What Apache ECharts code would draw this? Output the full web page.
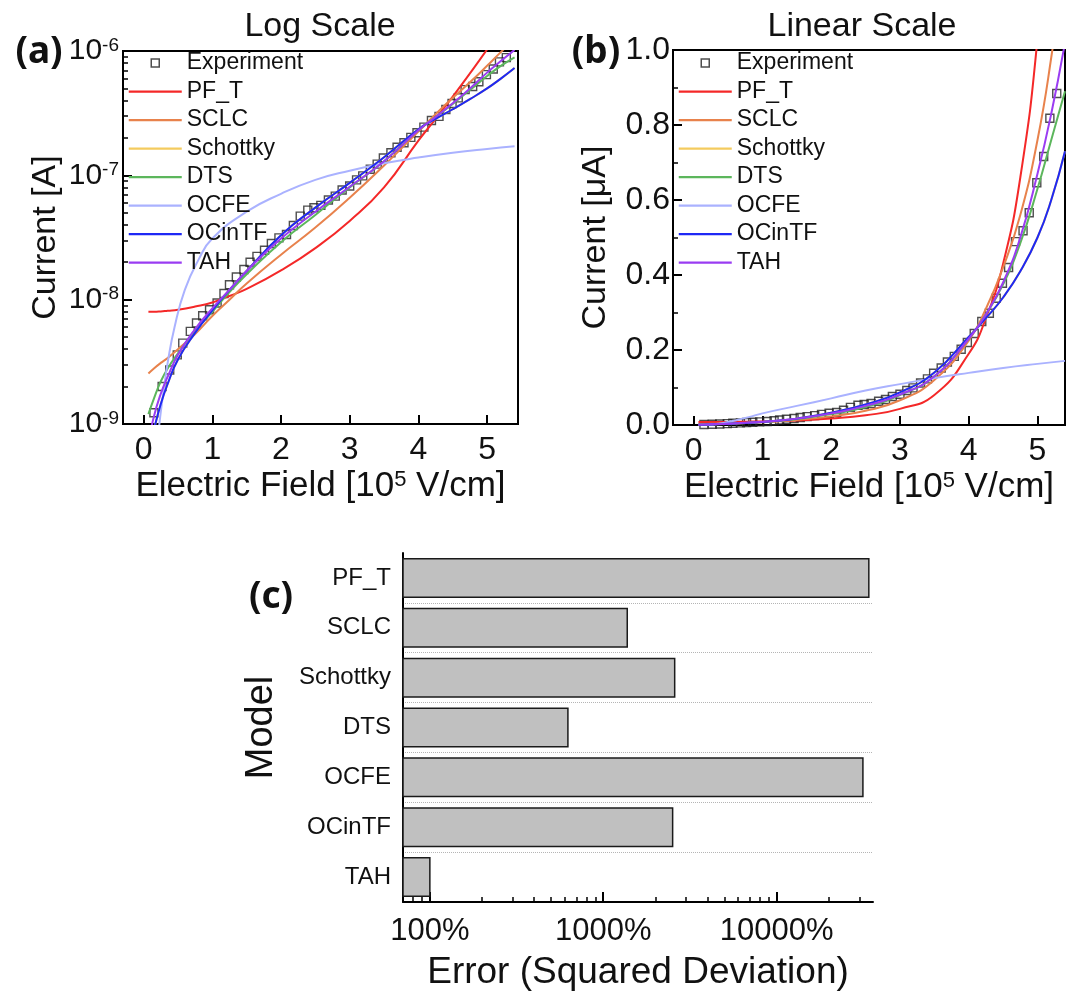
<!DOCTYPE html>
<html>
<head>
<meta charset="utf-8">
<title>I-V fits</title>
<script src="https://cdn.jsdelivr.net/npm/echarts@6/dist/echarts.min.js"></script>
<style>
    html, body { margin: 0; padding: 0; background: #fff; }
    #chart { width: 1073px; height: 997px; }
</style>
</head>
<body>
<div id="chart"></div>
<script>
// measured points, field in 1e5 V/cm, current in A
var fieldExp = [0.15, 0.27, 0.38, 0.49, 0.57, 0.68, 0.77, 0.86, 0.96, 1.07, 1.17, 1.25, 1.35, 1.46, 1.55,
    1.65, 1.76, 1.86, 1.97, 2.08, 2.18, 2.28, 2.39, 2.48, 2.58, 2.69, 2.79, 2.89, 3.00, 3.10, 3.19, 3.30,
    3.40, 3.49, 3.60, 3.69, 3.79, 3.89, 3.98, 4.08, 4.19, 4.30, 4.40, 4.49, 4.58, 4.68, 4.79, 4.88, 4.99,
    5.09, 5.18, 5.28];
var currentExp = [1.23e-9, 2.0e-9, 2.72e-9, 3.6e-9, 4.47e-9, 5.56e-9, 6.49e-9, 7.43e-9, 8.3e-9, 9.4e-9,
    1.12e-8, 1.32e-8, 1.52e-8, 1.75e-8, 2.0e-8, 2.23e-8, 2.5e-8, 2.83e-8, 3.14e-8, 3.34e-8, 3.95e-8,
    4.7e-8, 5.25e-8, 5.48e-8, 5.73e-8, 6.33e-8, 6.81e-8, 7.62e-8, 8.2e-8, 9.2e-8, 9.9e-8, 1.12e-7,
    1.23e-7, 1.38e-7, 1.52e-7, 1.68e-7, 1.83e-7, 2.02e-7, 2.2e-7, 2.44e-7, 2.76e-7, 2.98e-7, 3.38e-7,
    3.78e-7, 4.2e-7, 4.89e-7, 5.18e-7, 5.66e-7, 6.46e-7, 7.16e-7, 8.18e-7, 8.84e-7];

// fitted models
var fieldModel = [0.07, 0.15, 0.25, 0.35, 0.5, 0.75, 1.0, 1.25, 1.5, 2.0, 2.5, 3.0, 3.5, 4.0, 4.25, 4.5, 4.75, 5.0, 5.2, 5.4];
var currentPFT = [8.0e-9, 8.0e-9, 8.05e-9, 8.15e-9, 8.3e-9, 8.8e-9, 9.5e-9, 1.07e-8, 1.22e-8, 1.72e-8,
    2.6e-8, 4.3e-8, 8.0e-8, 1.9e-7, 2.85e-7, 4.3e-7, 6.6e-7, 1.03e-6, 1.5e-6, 2.2e-6];
var currentSCLC = [2.55e-9, 2.8e-9, 3.1e-9, 3.4e-9, 4.0e-9, 5.3e-9, 7.4e-9, 1.0e-8, 1.35e-8, 2.3e-8,
    3.8e-8, 6.6e-8, 1.2e-7, 2.25e-7, 3.1e-7, 4.2e-7, 5.6e-7, 7.6e-7, 9.8e-7, 1.25e-6];
var currentSchottky = [6.0e-10, 9.0e-10, 1.45e-9, 2.1e-9, 3.3e-9, 5.4e-9, 8.2e-9, 1.2e-8, 1.7e-8, 3.3e-8,
    5.5e-8, 8.7e-8, 1.4e-7, 2.35e-7, 2.85e-7, 3.4e-7, 4.1e-7, 5.0e-7, 6.0e-7, 7.3e-7];
var currentDTS = [1.2e-9, 1.6e-9, 2.2e-9, 2.8e-9, 3.7e-9, 5.6e-9, 8.0e-9, 1.15e-8, 1.6e-8, 2.9e-8,
    4.8e-8, 8.0e-8, 1.3e-7, 2.3e-7, 2.95e-7, 3.75e-7, 4.85e-7, 6.3e-7, 7.6e-7, 8.9e-7];
var currentOCinTF = [6.0e-10, 9.0e-10, 1.45e-9, 2.1e-9, 3.3e-9, 5.4e-9, 8.2e-9, 1.2e-8, 1.7e-8, 3.3e-8,
    5.5e-8, 8.7e-8, 1.4e-7, 2.35e-7, 2.85e-7, 3.4e-7, 4.1e-7, 5.0e-7, 6.0e-7, 7.3e-7];
var currentTAH = [7.0e-10, 1.15e-9, 1.75e-9, 2.4e-9, 3.6e-9, 5.8e-9, 8.5e-9, 1.2e-8, 1.7e-8, 3.1e-8,
    5.1e-8, 8.1e-8, 1.3e-7, 2.3e-7, 2.95e-7, 3.8e-7, 5.0e-7, 6.7e-7, 8.3e-7, 1.02e-6];
var fieldOCFE = [0.2, 0.25, 0.3, 0.35, 0.45, 0.6, 0.8, 1.0, 1.5, 2.0, 2.5, 3.0, 3.5, 4.0, 4.5, 5.0, 5.4];
var currentOCFE = [7.0e-10, 1.25e-9, 2.0e-9, 3.1e-9, 6.0e-9, 1.2e-8, 2.1e-8, 3.1e-8, 5.1e-8, 7.1e-8,
    9.2e-8, 1.09e-7, 1.25e-7, 1.39e-7, 1.52e-7, 1.63e-7, 1.71e-7];

// error of each model, percent
var models = ['PF_T', 'SCLC', 'Schottky', 'DTS', 'OCFE', 'OCinTF', 'TAH'];
var errors = [34400, 1390, 2610, 632, 31800, 2540, 101];

// ticks
var fieldTicks = [0, 1, 2, 3, 4, 5];
var logCurrentTicks = [1e-9, 1e-8, 1e-7, 1e-6];
var errorTicks = [100, 1000, 10000];

var FONT = "'Liberation Sans', Arial, sans-serif";
var modelColors = {
    'PF_T': '#f42828',
    'SCLC': '#e8824c',
    'Schottky': '#f4cb5e',
    'DTS': '#5cb65c',
    'OCFE': '#aab2ff',
    'OCinTF': '#1e28f5',
    'TAH': '#9a3cf2'
};

var modelCurves = [
    {name: 'PF_T', x: fieldModel, y: currentPFT},
    {name: 'SCLC', x: fieldModel, y: currentSCLC},
    {name: 'Schottky', x: fieldModel, y: currentSchottky},
    {name: 'DTS', x: fieldModel, y: currentDTS},
    {name: 'OCFE', x: fieldOCFE, y: currentOCFE},
    {name: 'OCinTF', x: fieldModel, y: currentOCinTF},
    {name: 'TAH', x: fieldModel, y: currentTAH}
];

function curve(xs, ys, scale) {
    return xs.map(function (x, i) {
        return [x, ys[i] * scale];
    });
}

function log10List(list) {
    return list.map(function (v) {
        return Math.log10(v);
    });
}

// tick positions 2..9 of every decade inside [lo, hi], in log10 units
function logMinor(lo, hi) {
    var out = [];
    for (var d = Math.floor(Math.log10(lo)); d <= Math.ceil(Math.log10(hi)); d++) {
        for (var k = 2; k <= 9; k++) {
            var v = k * Math.pow(10, d);
            if (v > lo && v < hi) out.push(Math.log10(v));
        }
    }
    return out;
}

function panelSeries(xIdx, yIdx, scale) {
    var list = [{
        name: 'Experiment',
        type: 'scatter',
        xAxisIndex: xIdx,
        yAxisIndex: yIdx,
        symbol: 'rect',
        symbolSize: 8,
        itemStyle: {color: 'rgba(0,0,0,0)', borderColor: '#222', borderWidth: 1.4},
        data: curve(fieldExp, currentExp, scale),
        z: 2
    }];
    modelCurves.forEach(function (m) {
        list.push({
            name: m.name,
            type: 'line',
            xAxisIndex: xIdx,
            yAxisIndex: yIdx,
            smooth: 0.5,
            symbol: 'none',
            lineStyle: {color: modelColors[m.name], width: 2},
            itemStyle: {color: modelColors[m.name]},
            data: curve(m.x, m.y, scale),
            z: 3
        });
    });
    return list;
}

var legendData = [{
    name: 'Experiment',
    icon: 'path://M0,0M53,14M22.5,3L30.5,3L30.5,11L22.5,11Z',
    itemStyle: {color: 'rgba(0,0,0,0)', borderColor: '#222', borderWidth: 1.5}
}].concat(models.map(function (name) {
    return {
        name: name,
        icon: 'path://M0,0M53,14M0,6L53,6L53,8.2L0,8.2Z',
        itemStyle: {color: modelColors[name], borderWidth: 0}
    };
}));

function legendAt(left) {
    return {
        left: left,
        top: 51,
        orient: 'vertical',
        padding: 0,
        itemWidth: 53,
        itemHeight: 14,
        itemGap: 4.5,
        selectedMode: false,
        textStyle: {fontSize: 23, lineHeight: 24, fontFamily: FONT, color: '#111'},
        data: legendData
    };
}

var blackLine = {show: true, onZero: false, lineStyle: {color: '#000', width: 2}};

// axis that only carries tick marks (values in log10 units), on its own overlay grid
function tickRuler(gridIndex, lo, hi, ticks, length, width) {
    return {
        type: 'value',
        gridIndex: gridIndex,
        min: lo,
        max: hi,
        axisLine: {show: false, onZero: false},
        axisTick: {inside: true, length: length, customValues: ticks, lineStyle: {width: width, color: '#000'}},
        axisLabel: {show: false},
        splitLine: {show: false}
    };
}

function hiddenAxis(gridIndex) {
    return {type: 'value', gridIndex: gridIndex, show: false, min: 0, max: 1};
}

function fieldAxis(gridIndex, max) {
    return {
        type: 'value',
        gridIndex: gridIndex,
        min: -0.3,
        max: max,
        name: 'Electric Field [10{sup|5} V/cm]',
        nameLocation: 'middle',
        nameGap: 45,
        nameTextStyle: {
            fontSize: 35, fontFamily: FONT, color: '#111',
            rich: {sup: {fontSize: 22, fontFamily: FONT, color: '#111', verticalAlign: 'top'}}
        },
        axisLine: blackLine,
        axisTick: {inside: true, length: 9, customValues: fieldTicks, lineStyle: {width: 2, color: '#000'}},
        axisLabel: {customValues: fieldTicks, fontSize: 32, fontFamily: FONT, color: '#111', margin: 10},
        splitLine: {show: false}
    };
}

var errMin = 70, errMax = 36000;
var gridA = {left: 123, top: 51, width: 395, height: 373};
var gridC = {left: 403, top: 553, width: 470, height: 349};

var chart = echarts.init(document.getElementById('chart'), null, {renderer: 'canvas'});

chart.setOption({
    animation: false,
    backgroundColor: '#fff',
    grid: [
        Object.assign({show: true, borderColor: '#000', borderWidth: 2}, gridA),
        {left: 673, top: 50, width: 392, height: 375, show: true, borderColor: '#000', borderWidth: 2},
        Object.assign({}, gridC),
        Object.assign({}, gridC),
        Object.assign({}, gridC),
        Object.assign({}, gridA)
    ],
    legend: [legendAt(128), legendAt(678)],
    xAxis: [
        fieldAxis(0, 5.45),
        fieldAxis(1, 5.4),
        {
            type: 'log',
            gridIndex: 2,
            logBase: 10,
            min: errMin,
            max: errMax,
            name: 'Error (Squared Deviation)',
            nameLocation: 'middle',
            nameGap: 52,
            nameTextStyle: {fontSize: 37, fontFamily: FONT, color: '#111'},
            axisLine: blackLine,
            axisTick: {show: false},
            axisLabel: {
                customValues: errorTicks, fontSize: 31, fontFamily: FONT, color: '#111', margin: 14,
                formatter: function (v) {
                    return Math.round(v) + '%';
                }
            },
            splitLine: {show: false}
        },
        tickRuler(3, Math.log10(errMin), Math.log10(errMax), log10List(errorTicks), 10, 2),
        tickRuler(4, Math.log10(errMin), Math.log10(errMax), logMinor(errMin, errMax), 5, 1.5),
        hiddenAxis(5)
    ],
    yAxis: [
        {
            type: 'log',
            gridIndex: 0,
            logBase: 10,
            min: 1e-9,
            max: 1e-6,
            name: 'Current [A]',
            nameLocation: 'middle',
            nameGap: 60,
            nameTextStyle: {fontSize: 34, fontFamily: FONT, color: '#111'},
            axisLine: blackLine,
            axisTick: {inside: true, length: 9, lineStyle: {width: 2, color: '#000'}},
            axisLabel: {
                customValues: logCurrentTicks, margin: 4, color: '#111',
                formatter: function (v) {
                    return '{b|10}{s|' + Math.round(Math.log10(v)) + '}';
                },
                rich: {
                    b: {fontSize: 30, fontFamily: FONT, color: '#111'},
                    s: {fontSize: 19, fontFamily: FONT, color: '#111', verticalAlign: 'top'}
                }
            },
            splitLine: {show: false}
        },
        {
            type: 'value',
            gridIndex: 1,
            min: 0,
            max: 1,
            interval: 0.2,
            name: 'Current [\u03bcA]',
            nameLocation: 'middle',
            nameGap: 60,
            nameTextStyle: {fontSize: 34, fontFamily: FONT, color: '#111'},
            axisLine: blackLine,
            axisTick: {inside: true, length: 9, lineStyle: {width: 2, color: '#000'}},
            minorTick: {show: true, splitNumber: 2, length: 5, lineStyle: {width: 1.5, color: '#000'}},
            axisLabel: {
                fontSize: 32, fontFamily: FONT, color: '#111', margin: 3,
                formatter: function (v) {
                    return v.toFixed(1);
                }
            },
            splitLine: {show: false}
        },
        {
            type: 'category',
            gridIndex: 2,
            inverse: true,
            data: models,
            name: 'Model',
            nameLocation: 'middle',
            nameGap: 122,
            nameTextStyle: {fontSize: 38, fontFamily: FONT, color: '#111'},
            axisLine: blackLine,
            axisTick: {show: false},
            axisLabel: {fontSize: 24, fontFamily: FONT, color: '#111', margin: 12},
            splitLine: {
                show: true,
                interval: function (i) {
                    return i > 0;
                },
                lineStyle: {type: 'dotted', color: '#b5b5b5', width: 1}
            }
        },
        hiddenAxis(3),
        hiddenAxis(4),
        tickRuler(5, -9, -6, logMinor(1e-9, 1e-6), 5, 1.5)
    ],
    graphic: [
        {type: 'text', x: 320, y: 27, style: {text: 'Log Scale', font: '34px ' + FONT, fill: '#111', align: 'center', verticalAlign: 'middle'}},
        {type: 'text', x: 862, y: 27, style: {text: 'Linear Scale', font: '34px ' + FONT, fill: '#111', align: 'center', verticalAlign: 'middle'}},
        {type: 'text', x: 39, y: 52, style: {text: '(a)', font: 'bold 37px "Noto Sans", sans-serif', fill: '#111', align: 'center', verticalAlign: 'middle'}},
        {type: 'text', x: 596, y: 52, style: {text: '(b)', font: 'bold 37px "Noto Sans", sans-serif', fill: '#111', align: 'center', verticalAlign: 'middle'}},
        {type: 'text', x: 271, y: 597, style: {text: '(c)', font: 'bold 37px "Noto Sans", sans-serif', fill: '#111', align: 'center', verticalAlign: 'middle'}}
    ],
    series: panelSeries(0, 0, 1).concat(panelSeries(1, 1, 1e6)).concat([{
        name: 'Error',
        type: 'bar',
        xAxisIndex: 2,
        yAxisIndex: 2,
        barWidth: 40,
        itemStyle: {color: '#c0c0c0', borderColor: '#1a1a1a', borderWidth: 1.5},
        data: errors
    }])
});
</script>
</body>
</html>
